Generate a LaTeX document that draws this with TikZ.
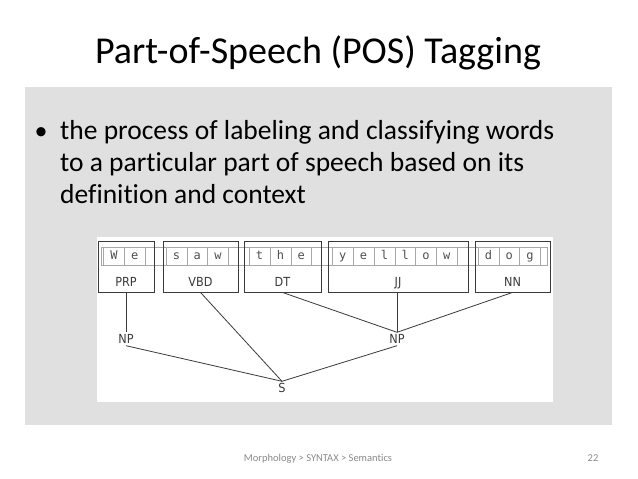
\documentclass[tikz,border=0pt]{standalone}
\usepackage{fontspec}
\setmainfont[Ligatures=NoCommon]{Carlito}
\newfontfamily\monoletters{DejaVu Sans Mono}
\newfontfamily\tagfont{DejaVu Sans Condensed}
\definecolor{panelgray}{HTML}{E0E0E0}
\definecolor{cellgray}{HTML}{A8A8A8}
\definecolor{lettergray}{HTML}{505050}
\definecolor{linegray}{HTML}{3A3A3A}
\definecolor{footgray}{HTML}{8A8A8A}
\begin{document}
\begin{tikzpicture}[x=1pt,y=-1pt,
  tagbox/.style={draw=linegray,line width=0.9pt,minimum height=51pt,inner sep=0pt},
  tagtext/.style={font=\tagfont\fontsize{12.5}{13}\selectfont,text=linegray,inner sep=1pt,text height=9pt,text depth=0pt},
  lettercell/.style={draw=cellgray,line width=0.6pt,minimum width=20.8pt,minimum height=18pt,inner sep=0pt,text height=9pt,text depth=3pt,font=\monoletters\fontsize{12}{12}\selectfont,text=lettergray},
  treetext/.style={font=\tagfont\fontsize{12.5}{13}\selectfont,text=linegray,inner sep=2pt,text height=9pt,text depth=0pt},
  treeline/.style={draw=linegray,line width=0.8pt},
  bodyline/.style={anchor=base west,inner sep=0pt,font=\fontsize{27.5}{32}\selectfont}]
\useasboundingbox (0,0) rectangle (638,479);
\fill[white] (0,0) rectangle (638,479);
% gray content panel
\fill[panelgray] (25,87) rectangle (612,425);
% white diagram panel
\fill[white] (97,237) rectangle (553,402);
% title
\node[anchor=base,inner sep=0pt,font=\fontsize{38}{44}\selectfont] (title) at (318,63) {Part-of-Speech (POS) Tagging};
% bullet text
\node[anchor=base,inner sep=0pt,font=\fontsize{26}{30}\selectfont] (bullet) at (41,139) {\textbullet};
\node[bodyline] (body1) at (60,139) {the process of labeling and classifying words};
\node[bodyline] (body2) at (60,171) {to a particular part of speech based on its};
\node[bodyline] (body3) at (60,203) {definition and context};
% letter strip
\draw[cellgray,line width=0.6pt] (101,247) rectangle (547,265);
\foreach \ch [count=\i from 0] in {W,e,{},s,a,w,{},t,h,e,{},y,e,l,l,o,w,{},d,o,g}{
  \node[lettercell] (c\i) at ({114+20.8*\i},256) {\ch};
}
% tag boxes
\node[tagbox,minimum width=56pt] (prp) at (126,266.5) {};
\node[tagbox,minimum width=75pt] (vbd) at (200.5,266.5) {};
\node[tagbox,minimum width=77pt] (dt) at (282.5,266.5) {};
\node[tagbox,minimum width=140pt] (jj) at (398,266.5) {};
\node[tagbox,minimum width=75pt] (nn) at (512.5,266.5) {};
\node[tagtext] (prpl) at (126,282) {PRP};
\node[tagtext] (vbdl) at (200.5,282) {VBD};
\node[tagtext] (dtl) at (282.5,282) {DT};
\node[tagtext] (jjl) at (398,282) {JJ};
\node[tagtext] (nnl) at (512.5,282) {NN};
% tree
\node[treetext] (np1) at (126,339) {NP};
\node[treetext] (np2) at (397,339) {NP};
\node[treetext] (s) at (282,388) {S};
\draw[treeline] (prp.south) -- (np1.north);
\draw[treeline] (jj.south -| np2.north) -- (np2.north);
\draw[treeline] (dt.south) -- (np2.north);
\draw[treeline] (nn.south) -- (np2.north);
\draw[treeline] (vbd.south) -- (s.north);
\draw[treeline] (np1.south) -- (s.north);
\draw[treeline] (np2.south) -- (s.north);
% footer
\node[anchor=base,inner sep=0pt,text=footgray,font=\fontsize{10.5}{12}\selectfont] (foot) at (318,461) {Morphology > SYNTAX > Semantics};
\node[anchor=base,inner sep=0pt,text=footgray,font=\fontsize{10.5}{12}\selectfont] (page) at (593,461) {22};
\end{tikzpicture}
\end{document}
